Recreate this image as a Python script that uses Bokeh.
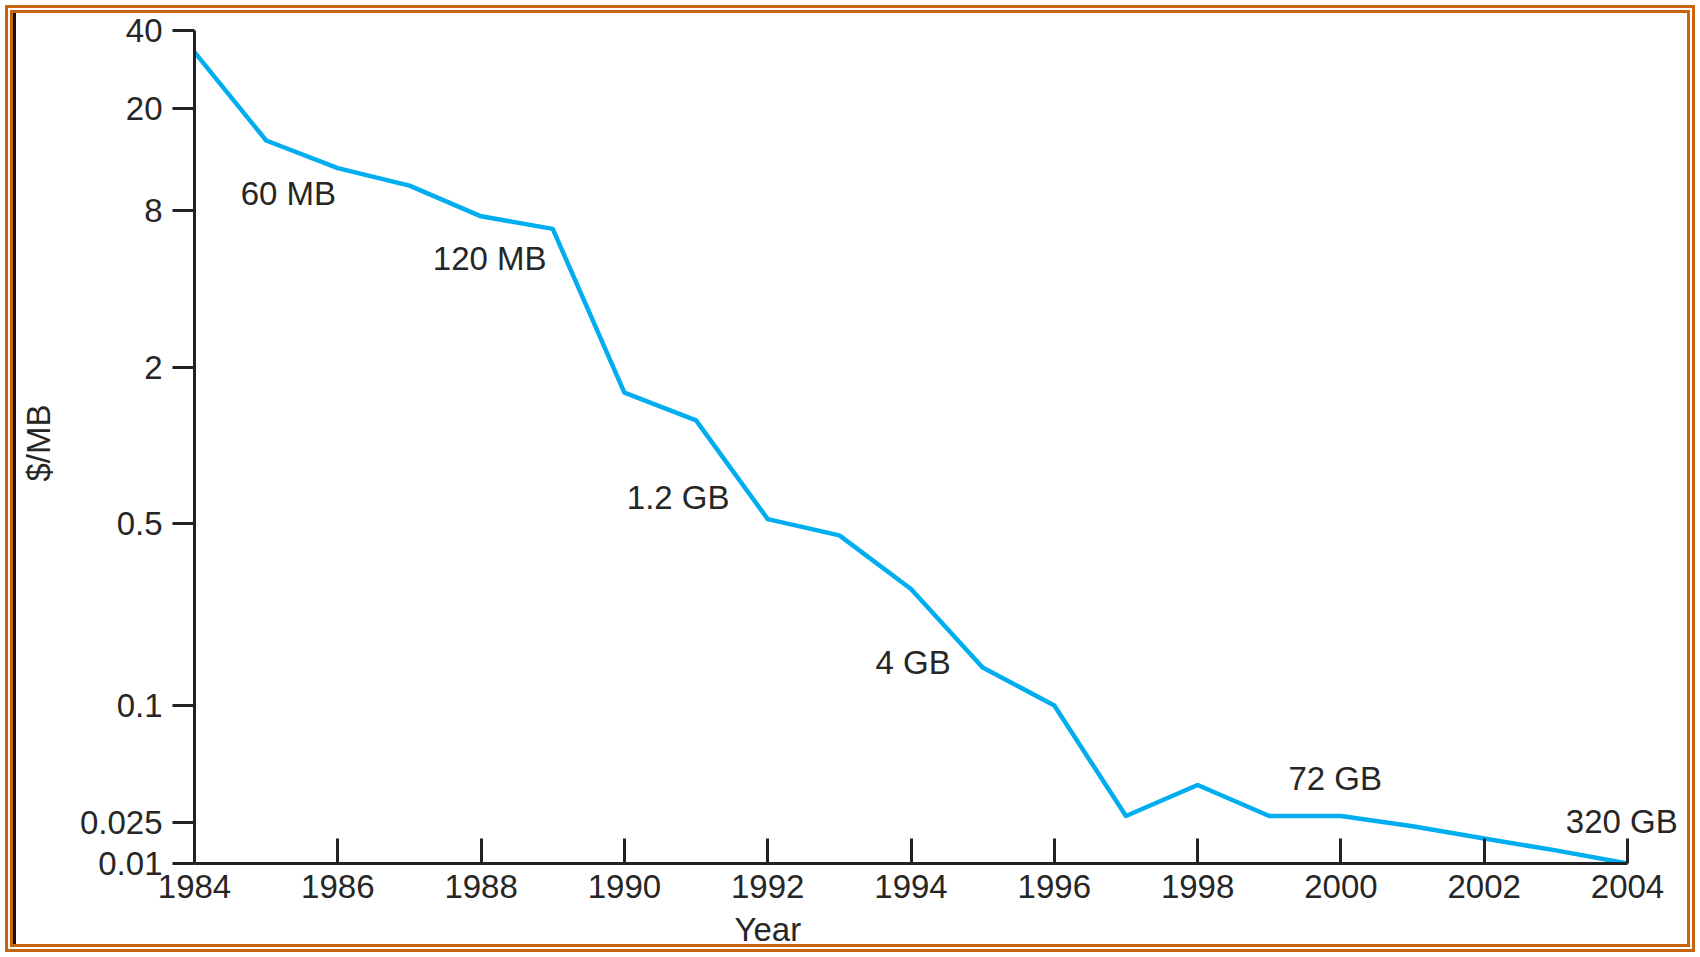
import numpy as np
from bokeh.plotting import figure
from bokeh.models import Range1d, FixedTicker, ColumnDataSource, Title
from bokeh.core.properties import value
from bokeh.embed import file_html
from bokeh.resources import INLINE

# ---- data ----
years = [1984, 1985, 1986, 1987, 1988, 1989, 1990, 1991, 1992, 1993, 1994,
         1995, 1996, 1997, 1998, 1999, 2000, 2001, 2002, 2003, 2004]
price_per_mb = [33, 15, 11.7, 10, 7.6, 6.8, 1.6, 1.25, 0.52, 0.45, 0.28,
                0.14, 0.1, 0.027, 0.039, 0.027, 0.027, 0.023, 0.0175, 0.0134, 0.01]

drive_labels = ["60 MB", "120 MB", "1.2 GB", "4 GB", "72 GB", "320 GB"]
drive_label_years = [1985.31, 1988.12, 1990.75, 1994.03, 1999.92, 2003.92]
drive_label_prices = [9.3, 5.24, 0.632, 0.146, 0.042, 0.0252]

x_ticks = [1984, 1986, 1988, 1990, 1992, 1994, 1996, 1998, 2000, 2002, 2004]
y_tick_values = [0.01, 0.025, 0.1, 0.5, 2, 8, 20, 40]
y_tick_labels = ["0.01", "0.025", "0.1", "0.5", "2", "8", "20", "40"]
# spacing of the hand-drawn (non-uniform) value axis
y_axis_slots = [0, 41, 158, 340, 496, 653, 755, 833]


def to_axis(v):
    return np.interp(np.log10(np.asarray(v, dtype=float)),
                     np.log10(y_tick_values), y_axis_slots)


FONT = "Liberation Sans"
FS = "33px"
TXT = "#262626"
AX = "#222222"
LINE = "#00aeef"
ORANGE = "#c8640f"

p = figure(width=1700, height=957, output_backend="svg", toolbar_location=None,
           x_range=Range1d(1984, 2004.963), y_range=Range1d(0, 841),
           min_border_left=194, min_border_right=4, min_border_top=22,
           min_border_bottom=94)
p.background_fill_alpha = 0
p.border_fill_alpha = 0
p.outline_line_color = None
p.grid.visible = False
p.styles = {
    "background-color": "white",
    "box-shadow": ("inset 0 0 0 5px white, inset 0 0 0 8px %s, "
                   "inset 0 0 0 10px white, inset 0 0 0 13px %s, "
                   "inset 16px 0 0 0 #111111") % (ORANGE, ORANGE),
}

src = ColumnDataSource(dict(x=years, y=to_axis(price_per_mb)))
p.line("x", "y", source=src, line_color=LINE, line_width=4.5, line_join="round")

lab_src = ColumnDataSource(dict(x=drive_label_years, y=to_axis(drive_label_prices),
                                t=drive_labels))
p.text("x", "y", text="t", source=lab_src, text_font=value(FONT),
       text_font_size=FS, text_color=TXT, text_align="center",
       text_baseline="middle")

# x axis
xa = p.xaxis[0]
xa.ticker = FixedTicker(ticks=x_ticks)
xa.bounds = (1984, 2004)
xa.axis_line_color = AX
xa.axis_line_width = 3
xa.major_tick_line_color = AX
xa.major_tick_line_width = 3
xa.major_tick_in = 25
xa.major_tick_out = 0
xa.minor_tick_line_color = None
xa.major_label_standoff = 11
xa.major_label_text_font = FONT
xa.major_label_text_font_size = FS
xa.major_label_text_color = TXT

# y axis
ya = p.yaxis[0]
ya.ticker = FixedTicker(ticks=[float(s) for s in y_axis_slots])
ya.major_label_overrides = {float(s): l for s, l in zip(y_axis_slots, y_tick_labels)}
ya.bounds = (0, max(y_axis_slots))
ya.axis_line_color = AX
ya.axis_line_width = 3
ya.major_tick_line_color = AX
ya.major_tick_line_width = 3
ya.major_tick_in = 0
ya.major_tick_out = 22
ya.minor_tick_line_color = None
ya.major_label_standoff = 10
ya.major_label_text_font = FONT
ya.major_label_text_font_size = FS
ya.major_label_text_color = TXT
ya.axis_label = "$/MB"
ya.axis_label_text_font = FONT
ya.axis_label_text_font_size = FS
ya.axis_label_text_font_style = "normal"
ya.axis_label_text_color = TXT
ya.axis_label_standoff = 20

p.add_layout(Title(text="Year", align="left", offset=540, standoff=16,
                   text_font=FONT, text_font_size=FS, text_font_style="normal",
                   text_color=TXT), "below")

open("out.html", "w").write(file_html(p, INLINE))
